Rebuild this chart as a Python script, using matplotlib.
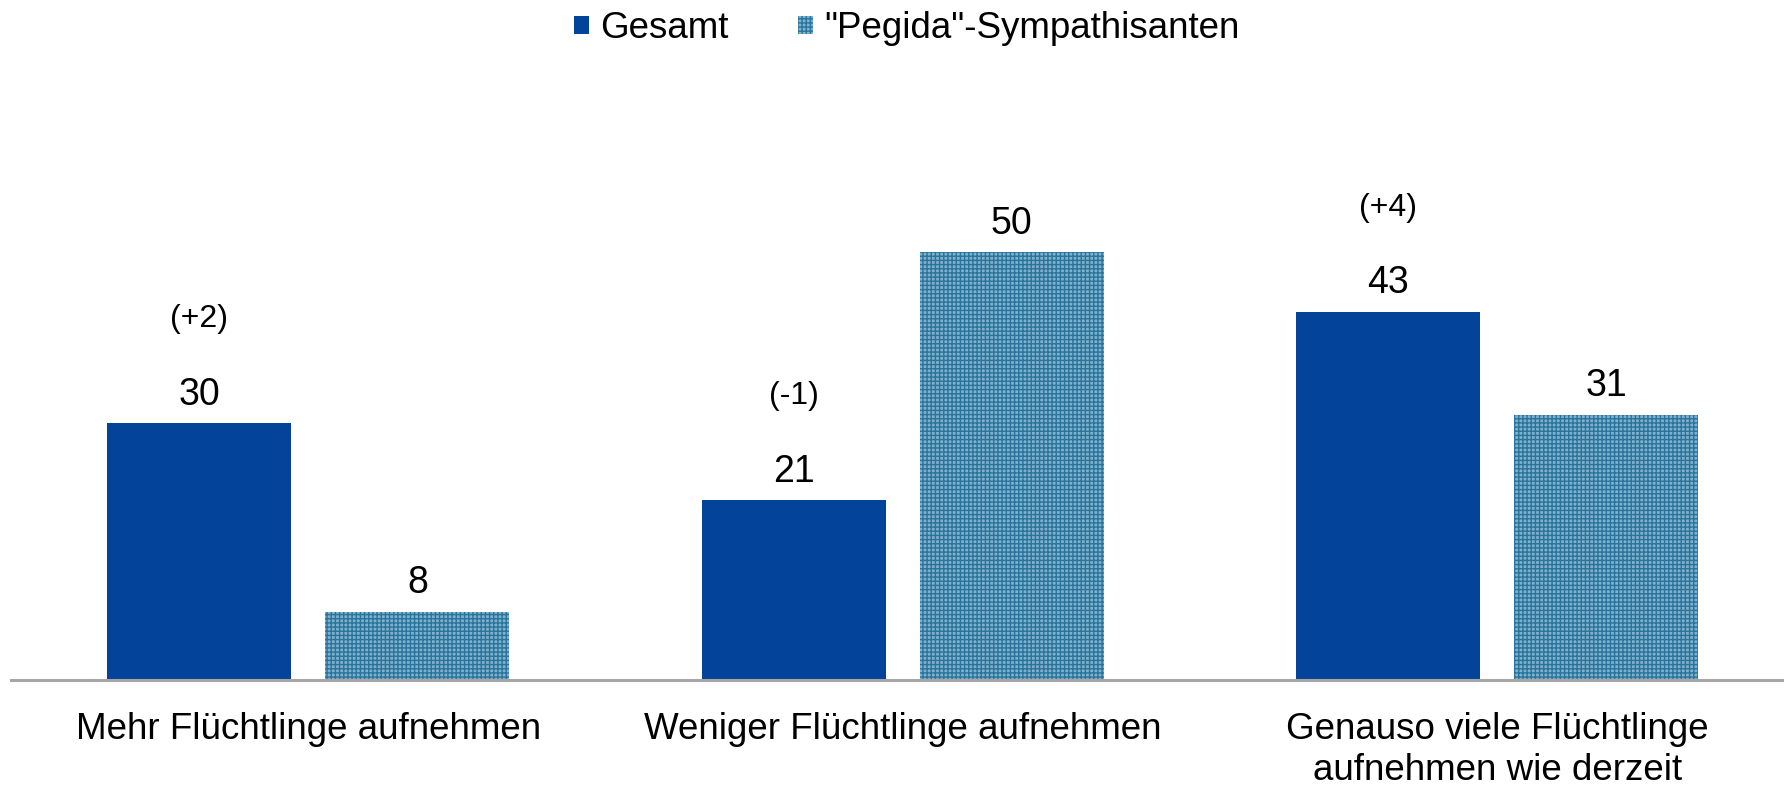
import matplotlib.pyplot as plt
import numpy as np
from matplotlib.patches import Patch

plt.rcParams['font.family'] = ['Liberation Sans', 'DejaVu Sans']
plt.rcParams['hatch.linewidth'] = 1.0

# Daten
kategorien = ['Mehr Flüchtlinge aufnehmen', 'Weniger Flüchtlinge aufnehmen',
              'Genauso viele Flüchtlinge\naufnehmen wie derzeit']
gesamt = [30, 21, 43]
pegida = [8, 50, 31]
veraenderung = ['(+2)', '(-1)', '(+4)']
serien = ['Gesamt', '"Pegida"-Sympathisanten']

farbe_gesamt = '#03449a'
farbe_pegida = '#7fb0cc'
farbe_muster = '#2a749c'

fig = plt.figure(figsize=(17.84, 7.88), dpi=100)
ax = fig.add_axes([11 / 1784, 108 / 788, 1783.5 / 1784, 600 / 788])

x = np.arange(len(kategorien))
breite = 0.31
abstand = 0.0285 + breite / 2

b1 = ax.bar(x - abstand, gesamt, breite, color=farbe_gesamt, linewidth=0)
b2 = ax.bar(x + abstand, pegida, breite, facecolor=farbe_pegida,
            edgecolor=farbe_muster, hatch='++++', linewidth=0)

# Werte über den Balken
for rect, wert in zip(list(b1) + list(b2), gesamt + pegida):
    ax.annotate(str(wert), (rect.get_x() + rect.get_width() / 2, rect.get_height()),
                xytext=(0, 20.5), textcoords='offset points',
                ha='center', va='center', fontsize=27)
for rect, txt in zip(b1, veraenderung):
    ax.annotate(txt, (rect.get_x() + rect.get_width() / 2, rect.get_height()),
                xytext=(0, 75), textcoords='offset points',
                ha='center', va='center', fontsize=23)

ax.set_xlim(-0.5, 2.5)
ax.set_ylim(0, 600 / 8.56)
for s in ['top', 'right', 'left']:
    ax.spines[s].set_visible(False)
ax.spines['bottom'].set_color('#a6a6a6')
ax.spines['bottom'].set_linewidth(2.2)
ax.set_yticks([])
ax.set_xticks(x)
ax.set_xticklabels(kategorien, fontsize=26.5, linespacing=1.22)
ax.tick_params(axis='x', length=0, pad=23)

handles = [Patch(facecolor=farbe_gesamt, linewidth=0),
           Patch(facecolor=farbe_pegida, edgecolor=farbe_muster, hatch='++++', linewidth=0)]
fig.legend(handles, serien, loc='center', bbox_to_anchor=(907 / 1784, 1 - 28.5 / 788),
           ncol=2, frameon=False, fontsize=26.5, handlelength=0.4, handleheight=0.4,
           handletextpad=0.3, columnspacing=1.9, borderpad=0)

fig.savefig('out.png', dpi=100)
